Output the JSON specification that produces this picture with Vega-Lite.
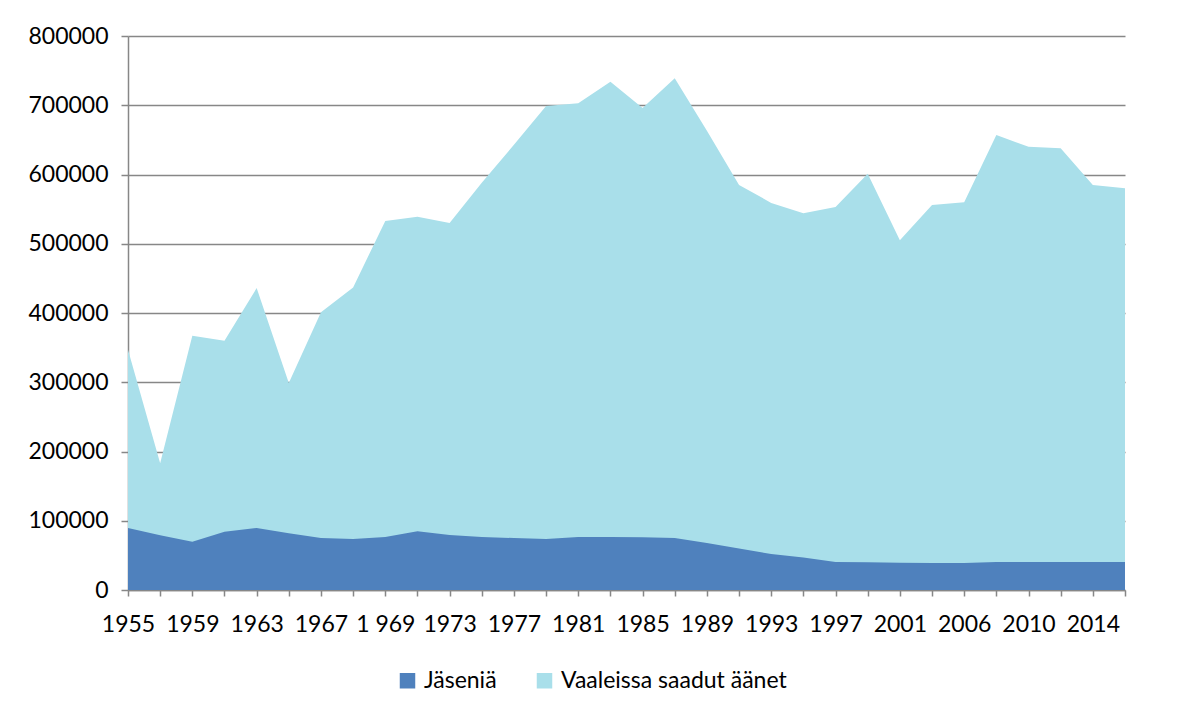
{
  "$schema": "https://vega.github.io/schema/vega-lite/v6.json",
  "width": 997,
  "height": 554,
  "autosize": {"type": "none"},
  "padding": {"left": 128, "top": 36, "right": 59, "bottom": 127},
  "background": "white",
  "config": {
    "font": "Lato",
    "view": {"stroke": null},
    "axis": {"labelFont": "Lato", "labelFontSize": 23, "labelColor": "#000000", "domainColor": "#878787", "tickColor": "#878787", "gridColor": "#878787", "domainWidth": 1.5, "tickWidth": 1.5, "gridWidth": 1.5}
  },
  "datasets": {
    "rows": [
      {"vuosi": "1955", "sarja": "Vaaleissa saadut äänet", "arvo": 347000},
      {"vuosi": "1957", "sarja": "Vaaleissa saadut äänet", "arvo": 183000},
      {"vuosi": "1959", "sarja": "Vaaleissa saadut äänet", "arvo": 367000},
      {"vuosi": "1961", "sarja": "Vaaleissa saadut äänet", "arvo": 360000},
      {"vuosi": "1963", "sarja": "Vaaleissa saadut äänet", "arvo": 436000},
      {"vuosi": "1965", "sarja": "Vaaleissa saadut äänet", "arvo": 299000},
      {"vuosi": "1967", "sarja": "Vaaleissa saadut äänet", "arvo": 401000},
      {"vuosi": "1968", "sarja": "Vaaleissa saadut äänet", "arvo": 437000},
      {"vuosi": "1 969", "sarja": "Vaaleissa saadut äänet", "arvo": 533000},
      {"vuosi": "1971", "sarja": "Vaaleissa saadut äänet", "arvo": 539000},
      {"vuosi": "1973", "sarja": "Vaaleissa saadut äänet", "arvo": 530000},
      {"vuosi": "1975", "sarja": "Vaaleissa saadut äänet", "arvo": 588000},
      {"vuosi": "1977", "sarja": "Vaaleissa saadut äänet", "arvo": 643000},
      {"vuosi": "1979", "sarja": "Vaaleissa saadut äänet", "arvo": 699000},
      {"vuosi": "1981", "sarja": "Vaaleissa saadut äänet", "arvo": 703000},
      {"vuosi": "1983", "sarja": "Vaaleissa saadut äänet", "arvo": 734000},
      {"vuosi": "1985", "sarja": "Vaaleissa saadut äänet", "arvo": 696000},
      {"vuosi": "1987", "sarja": "Vaaleissa saadut äänet", "arvo": 739000},
      {"vuosi": "1989", "sarja": "Vaaleissa saadut äänet", "arvo": 663000},
      {"vuosi": "1991", "sarja": "Vaaleissa saadut äänet", "arvo": 585000},
      {"vuosi": "1993", "sarja": "Vaaleissa saadut äänet", "arvo": 559000},
      {"vuosi": "1995", "sarja": "Vaaleissa saadut äänet", "arvo": 544000},
      {"vuosi": "1997", "sarja": "Vaaleissa saadut äänet", "arvo": 553000},
      {"vuosi": "1999", "sarja": "Vaaleissa saadut äänet", "arvo": 601000},
      {"vuosi": "2001", "sarja": "Vaaleissa saadut äänet", "arvo": 505000},
      {"vuosi": "2004", "sarja": "Vaaleissa saadut äänet", "arvo": 556000},
      {"vuosi": "2006", "sarja": "Vaaleissa saadut äänet", "arvo": 560000},
      {"vuosi": "2008", "sarja": "Vaaleissa saadut äänet", "arvo": 657000},
      {"vuosi": "2010", "sarja": "Vaaleissa saadut äänet", "arvo": 640000},
      {"vuosi": "2012", "sarja": "Vaaleissa saadut äänet", "arvo": 638000},
      {"vuosi": "2014", "sarja": "Vaaleissa saadut äänet", "arvo": 585000},
      {"vuosi": "2015", "sarja": "Vaaleissa saadut äänet", "arvo": 580000},
      {"vuosi": "1955", "sarja": "Jäseniä", "arvo": 89500},
      {"vuosi": "1957", "sarja": "Jäseniä", "arvo": 79000},
      {"vuosi": "1959", "sarja": "Jäseniä", "arvo": 69500},
      {"vuosi": "1961", "sarja": "Jäseniä", "arvo": 84000},
      {"vuosi": "1963", "sarja": "Jäseniä", "arvo": 89500},
      {"vuosi": "1965", "sarja": "Jäseniä", "arvo": 82000},
      {"vuosi": "1967", "sarja": "Jäseniä", "arvo": 75000},
      {"vuosi": "1968", "sarja": "Jäseniä", "arvo": 73600},
      {"vuosi": "1 969", "sarja": "Jäseniä", "arvo": 76500},
      {"vuosi": "1971", "sarja": "Jäseniä", "arvo": 85000},
      {"vuosi": "1973", "sarja": "Jäseniä", "arvo": 79500},
      {"vuosi": "1975", "sarja": "Jäseniä", "arvo": 76500},
      {"vuosi": "1977", "sarja": "Jäseniä", "arvo": 75000},
      {"vuosi": "1979", "sarja": "Jäseniä", "arvo": 73600},
      {"vuosi": "1981", "sarja": "Jäseniä", "arvo": 76500},
      {"vuosi": "1983", "sarja": "Jäseniä", "arvo": 76500},
      {"vuosi": "1985", "sarja": "Jäseniä", "arvo": 76000},
      {"vuosi": "1987", "sarja": "Jäseniä", "arvo": 75000},
      {"vuosi": "1989", "sarja": "Jäseniä", "arvo": 68000},
      {"vuosi": "1991", "sarja": "Jäseniä", "arvo": 60000},
      {"vuosi": "1993", "sarja": "Jäseniä", "arvo": 52000},
      {"vuosi": "1995", "sarja": "Jäseniä", "arvo": 47000},
      {"vuosi": "1997", "sarja": "Jäseniä", "arvo": 40400},
      {"vuosi": "1999", "sarja": "Jäseniä", "arvo": 40000},
      {"vuosi": "2001", "sarja": "Jäseniä", "arvo": 39500},
      {"vuosi": "2004", "sarja": "Jäseniä", "arvo": 39000},
      {"vuosi": "2006", "sarja": "Jäseniä", "arvo": 39000},
      {"vuosi": "2008", "sarja": "Jäseniä", "arvo": 40500},
      {"vuosi": "2010", "sarja": "Jäseniä", "arvo": 40500},
      {"vuosi": "2012", "sarja": "Jäseniä", "arvo": 40500},
      {"vuosi": "2014", "sarja": "Jäseniä", "arvo": 40400},
      {"vuosi": "2015", "sarja": "Jäseniä", "arvo": 40400}
    ]
  },
  "data": {"name": "rows"},
  "encoding": {
    "x": {
      "field": "vuosi",
      "type": "ordinal",
      "sort": null,
      "scale": {"type": "point", "padding": 0},
      "axis": {
        "title": null,
        "labelAngle": 0,
        "labelOverlap": false,
        "labelPadding": 17,
        "tickSize": 6,
        "labelExpr": "indexof(['1955','1959','1963','1967','1 969','1973','1977','1981','1985','1989','1993','1997','2001','2006','2010','2014'], datum.value) >= 0 ? datum.label : ''"
      }
    },
    "y": {
      "field": "arvo",
      "type": "quantitative",
      "stack": null,
      "scale": {"domain": [0, 800000], "nice": false},
      "axis": {"title": null, "values": [0, 100000, 200000, 300000, 400000, 500000, 600000, 700000, 800000], "format": "d", "tickSize": 7, "labelPadding": 13, "grid": true}
    },
    "color": {
      "field": "sarja",
      "type": "nominal",
      "scale": {"domain": ["Jäseniä", "Vaaleissa saadut äänet"], "range": ["#4F81BD", "#A9DFEA"]},
      "legend": {
        "title": null,
        "orient": "none",
        "direction": "horizontal",
        "legendX": 268,
        "legendY": 633,
        "symbolType": "square",
        "symbolSize": 240,
        "symbolOpacity": 1,
        "labelFont": "Lato",
        "labelFontSize": 23,
        "labelColor": "#000000",
        "labelLimit": 0,
        "labelOffset": 5,
        "columnPadding": 36
      }
    }
  },
  "layer": [
    {"transform": [{"filter": "datum.sarja == 'Vaaleissa saadut äänet'"}], "mark": {"type": "area", "opacity": 1}},
    {"transform": [{"filter": "datum.sarja == 'Jäseniä'"}], "mark": {"type": "area", "opacity": 1}}
  ]
}
